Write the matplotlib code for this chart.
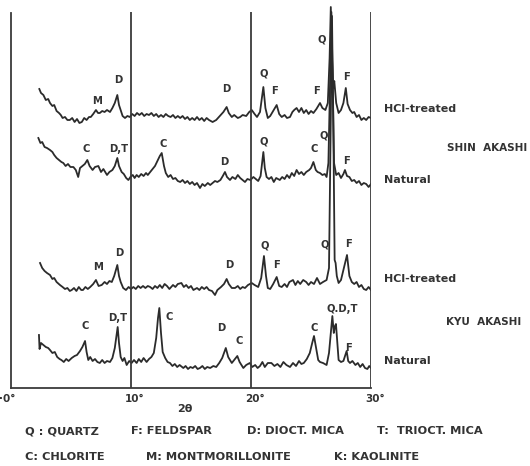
import matplotlib
matplotlib.use("Agg")
import matplotlib.pyplot as plt
from matplotlib.transforms import ScaledTranslation

W, H = 530, 466

# ---- data: (2-theta in degrees, relative intensity in arbitrary units)
shin_hcl = [
    (2.36, 299), (2.5, 295), (2.7, 293), (2.9, 288), (3.1, 289), (3.25, 285), (3.45, 282), (3.6, 283),
    (3.8, 277), (4.0, 275), (4.15, 273), (4.3, 270), (4.5, 271), (4.7, 268), (4.9, 268), (5.1, 270),
    (5.3, 266), (5.5, 269), (5.7, 265), (5.9, 266), (6.1, 270), (6.3, 268), (6.5, 271), (6.65, 271),
    (6.85, 274), (7.08, 278), (7.25, 275), (7.4, 275), (7.6, 277), (7.8, 276), (8.0, 278), (8.25, 276),
    (8.45, 280), (8.65, 285), (8.86, 293), (9.0, 283), (9.14, 278), (9.3, 272), (9.5, 270), (9.7, 272),
    (9.9, 271), (10.1, 274), (10.3, 272), (10.5, 275), (10.7, 273), (10.9, 275), (11.1, 272), (11.3, 274),
    (11.5, 273), (11.7, 275), (11.9, 272), (12.1, 274), (12.3, 271), (12.5, 273), (12.7, 271), (12.9, 274),
    (13.1, 272), (13.3, 271), (13.5, 273), (13.7, 270), (13.9, 272), (14.1, 270), (14.3, 272), (14.5, 269),
    (14.7, 271), (14.9, 268), (15.1, 270), (15.3, 268), (15.5, 271), (15.7, 268), (15.9, 270), (16.1, 267),
    (16.3, 270), (16.5, 268), (16.8, 266), (17.1, 268), (17.4, 272), (17.7, 276), (17.97, 281), (18.15, 275),
    (18.4, 271), (18.6, 273), (18.9, 270), (19.1, 271), (19.3, 273), (19.6, 272), (19.85, 276), (20.06, 278),
    (20.3, 274), (20.5, 271), (20.75, 276), (21.03, 301), (21.2, 280), (21.4, 270), (21.6, 272), (21.8, 276),
    (22.14, 283), (22.35, 274), (22.56, 271), (22.8, 273), (23.0, 270), (23.25, 271), (23.45, 276), (23.6, 278),
    (23.8, 280), (24.0, 276), (24.2, 280), (24.4, 275), (24.6, 278), (24.8, 274), (25.0, 277), (25.2, 275),
    (25.45, 279), (25.75, 285), (25.95, 280), (26.2, 278), (26.4, 285), (26.55, 330), (26.65, 381), (26.75, 330),
    (26.85, 300), (26.94, 307), (27.1, 285), (27.3, 275), (27.5, 278), (27.7, 285), (27.9, 300), (28.05, 284),
    (28.25, 278), (28.45, 275), (28.6, 276), (28.8, 271), (29.0, 273), (29.2, 268), (29.4, 270), (29.6, 268),
    (29.8, 271), (30.0, 270),
]

shin_nat = [
    (2.28, 250), (2.45, 245), (2.6, 246), (2.8, 241), (3.0, 240), (3.25, 238), (3.45, 236), (3.6, 233),
    (3.8, 230), (4.0, 228), (4.2, 226), (4.36, 225), (4.55, 222), (4.75, 224), (4.95, 221), (5.2, 221),
    (5.4, 218), (5.6, 211), (5.75, 220), (5.95, 222), (6.15, 224), (6.36, 228), (6.55, 222), (6.8, 218),
    (7.0, 221), (7.28, 222), (7.5, 216), (7.7, 219), (8.0, 213), (8.2, 216), (8.45, 218), (8.65, 222),
    (8.86, 230), (9.0, 222), (9.22, 216), (9.4, 214), (9.6, 210), (9.78, 208), (9.95, 211), (10.15, 213),
    (10.3, 210), (10.47, 213), (10.65, 211), (10.85, 214), (11.05, 212), (11.25, 215), (11.4, 213), (11.6, 216),
    (11.8, 219), (12.0, 222), (12.2, 227), (12.4, 232), (12.56, 235), (12.75, 222), (12.9, 215), (13.1, 211),
    (13.3, 213), (13.5, 209), (13.7, 210), (13.9, 207), (14.1, 206), (14.3, 208), (14.5, 205), (14.7, 207),
    (14.9, 204), (15.1, 206), (15.3, 203), (15.5, 205), (15.75, 200), (15.95, 204), (16.15, 202), (16.4, 205),
    (16.6, 203), (16.8, 205), (17.0, 207), (17.2, 206), (17.45, 208), (17.65, 212), (17.83, 216), (18.0, 211),
    (18.25, 208), (18.45, 211), (18.7, 209), (18.9, 213), (19.1, 210), (19.3, 208), (19.5, 206), (19.7, 209),
    (19.95, 208), (20.2, 211), (20.4, 209), (20.6, 207), (20.8, 212), (21.03, 236), (21.15, 220), (21.3, 211),
    (21.5, 209), (21.7, 211), (21.9, 206), (22.1, 210), (22.4, 208), (22.6, 211), (22.8, 209), (23.0, 213),
    (23.2, 210), (23.4, 215), (23.6, 212), (23.8, 218), (24.0, 214), (24.2, 216), (24.4, 213), (24.6, 216),
    (24.85, 218), (25.0, 220), (25.2, 226), (25.4, 218), (25.55, 216), (25.75, 215), (25.95, 213), (26.15, 214),
    (26.3, 211), (26.45, 225), (26.58, 300), (26.7, 376), (26.82, 300), (26.92, 225), (27.1, 213), (27.3, 215),
    (27.5, 210), (27.7, 214), (27.83, 218), (28.0, 212), (28.2, 211), (28.4, 207), (28.6, 208), (28.8, 205),
    (29.0, 207), (29.2, 203), (29.4, 205), (29.6, 204), (29.8, 201), (30.0, 204),
]

kyu_hcl = [
    (2.42, 125), (2.6, 120), (2.8, 117), (3.0, 115), (3.25, 113), (3.45, 109), (3.6, 110), (3.8, 106),
    (4.08, 103), (4.3, 101), (4.5, 99), (4.7, 100), (4.9, 97), (5.06, 98), (5.25, 100), (5.45, 97),
    (5.65, 101), (5.85, 98), (6.0, 98), (6.2, 101), (6.4, 99), (6.6, 101), (6.85, 104), (7.08, 108),
    (7.3, 102), (7.56, 103), (7.8, 106), (8.0, 104), (8.2, 107), (8.4, 106), (8.6, 112), (8.86, 123),
    (9.0, 112), (9.14, 106), (9.35, 100), (9.58, 98), (9.8, 101), (10.0, 99), (10.2, 101), (10.4, 99),
    (10.6, 102), (10.8, 100), (11.0, 102), (11.2, 100), (11.4, 102), (11.6, 101), (11.8, 99), (12.0, 102),
    (12.2, 100), (12.4, 103), (12.6, 100), (12.8, 104), (13.0, 102), (13.2, 99), (13.5, 103), (13.7, 101),
    (13.9, 104), (14.2, 105), (14.4, 101), (14.6, 103), (14.8, 100), (15.0, 102), (15.2, 98), (15.5, 100),
    (15.7, 98), (15.9, 101), (16.1, 99), (16.3, 101), (16.5, 98), (16.75, 97), (17.0, 93), (17.2, 98),
    (17.5, 101), (17.75, 104), (17.97, 109), (18.15, 104), (18.4, 100), (18.67, 100), (18.9, 102), (19.1, 99),
    (19.3, 101), (19.5, 100), (19.75, 103), (20.06, 105), (20.3, 103), (20.6, 101), (20.85, 110), (21.08, 132),
    (21.25, 112), (21.4, 100), (21.6, 99), (21.85, 104), (22.14, 111), (22.35, 102), (22.56, 101), (22.8, 104),
    (23.0, 101), (23.2, 106), (23.5, 108), (23.7, 103), (23.9, 107), (24.1, 104), (24.35, 108), (24.6, 106),
    (24.8, 103), (25.0, 106), (25.25, 104), (25.5, 110), (25.75, 104), (26.0, 106), (26.3, 108), (26.5, 120),
    (26.63, 250), (26.75, 372), (26.87, 250), (26.97, 128), (27.05, 125), (27.15, 112), (27.3, 105), (27.5, 108),
    (27.7, 118), (28.0, 133), (28.2, 112), (28.4, 106), (28.6, 104), (28.8, 106), (29.0, 101), (29.2, 103),
    (29.4, 99), (29.6, 98), (29.8, 101), (30.0, 98),
]

kyu_nat = [
    (2.33, 53), (2.38, 39), (2.5, 45), (2.7, 43), (2.9, 41), (3.1, 40), (3.25, 38), (3.45, 35),
    (3.65, 36), (3.85, 31), (4.05, 29), (4.2, 28), (4.4, 26), (4.6, 29), (4.8, 27), (5.06, 30),
    (5.3, 32), (5.5, 33), (5.75, 37), (5.95, 41), (6.17, 47), (6.3, 36), (6.44, 28), (6.6, 31),
    (6.8, 27), (7.0, 29), (7.2, 26), (7.4, 25), (7.6, 28), (7.8, 25), (8.0, 27), (8.25, 26),
    (8.45, 30), (8.65, 40), (8.89, 61), (9.0, 45), (9.14, 31), (9.3, 27), (9.45, 30), (9.64, 23),
    (9.85, 27), (10.05, 25), (10.25, 28), (10.47, 25), (10.65, 29), (10.85, 26), (11.05, 30), (11.3, 26),
    (11.5, 29), (11.7, 31), (11.9, 35), (12.1, 50), (12.25, 70), (12.36, 80), (12.5, 55), (12.64, 36),
    (12.85, 30), (13.05, 26), (13.25, 25), (13.45, 22), (13.65, 24), (13.85, 21), (14.05, 23), (14.36, 20),
    (14.55, 22), (14.75, 19), (14.95, 21), (15.15, 20), (15.35, 22), (15.55, 19), (15.75, 20), (15.95, 22),
    (16.15, 19), (16.35, 21), (16.6, 20), (16.86, 22), (17.1, 21), (17.35, 25), (17.6, 30), (17.9, 40),
    (18.1, 31), (18.4, 25), (18.6, 28), (18.86, 32), (19.05, 26), (19.36, 20), (19.6, 23), (19.9, 25),
    (20.1, 21), (20.35, 23), (20.55, 20), (20.75, 22), (20.95, 26), (21.15, 21), (21.4, 25), (21.7, 25),
    (21.95, 22), (22.2, 24), (22.45, 21), (22.7, 26), (22.95, 23), (23.25, 21), (23.5, 25), (23.75, 22),
    (24.0, 27), (24.2, 24), (24.4, 25), (24.65, 29), (24.9, 35), (25.1, 45), (25.25, 52), (25.45, 38),
    (25.6, 28), (25.75, 26), (26.0, 25), (26.3, 23), (26.5, 35), (26.65, 55), (26.78, 72), (26.9, 55),
    (27.0, 62), (27.08, 64), (27.2, 45), (27.3, 28), (27.5, 26), (27.7, 27), (27.97, 37), (28.1, 27),
    (28.25, 25), (28.45, 27), (28.7, 23), (28.9, 25), (29.1, 21), (29.3, 24), (29.5, 20), (29.7, 19),
    (29.85, 22), (30.0, 20),
]

traces = [shin_hcl, shin_nat, kyu_hcl, kyu_nat]

tick_vals = [0, 10, 20, 30]
tick_labels = ["·0°", "10°", "20°", "30°"]

legend_row1 = ["Q : QUARTZ", "F: FELDSPAR", "D: DIOCT. MICA", "T:  TRIOCT. MICA"]
legend_row2 = ["C: CHLORITE", "M: MONTMORILLONITE", "K: KAOLINITE"]

INK = "#2b2b2b"
TXT = "#333333"

fig = plt.figure(figsize=(W / 100, H / 100), dpi=100, facecolor="white")
x0, x30 = 11, 371
ybot, ytop = 388, 5
ax = fig.add_axes([x0 / W, 1 - ybot / H, (x30 - x0) / W, (ybot - ytop) / H])
ax.set_xlim(0, 30)
ax.set_ylim(0, ybot - ytop)
ax.set_facecolor("white")

for tr in traces:
    xs = [p[0] for p in tr]
    ys = [p[1] for p in tr]
    ax.plot(xs, ys, color=INK, lw=1.3)

ax.vlines([10, 20, 30], 0, ybot - 12, color="#3a3a3a", lw=1.3)
for s in ["top", "right"]:
    ax.spines[s].set_visible(False)
ax.spines["left"].set_bounds(0, ybot - 13)
for s in ["left", "bottom"]:
    ax.spines[s].set_color("#3a3a3a")
    ax.spines[s].set_linewidth(1.3)
ax.set_yticks([])
ax.set_xticks(tick_vals)
ax.set_xticklabels(tick_labels, fontsize=7.5, color=TXT, fontweight="bold")
ax.tick_params(axis="x", length=0, pad=4)
for i, lab in enumerate(ax.get_xticklabels()):
    dx = -4 if i == 0 else 4
    lab.set_transform(lab.get_transform() + ScaledTranslation(dx / 100, 0, fig.dpi_scale_trans))


def ftxt(x, y, s, size=8, ha="center", weight="bold", **kw):
    fig.text(x / W, 1 - y / H, s, ha=ha, va="center", fontsize=size, color=TXT,
             fontweight=weight, **kw)


PK = 7.2
# peak labels: Shin Akashi HCl-treated
for x, y, s in [(97, 101, "M"), (118, 80, "D"), (226, 89, "D"), (264, 74, "Q"),
                (275, 91, "F"), (316, 91, "F"), (322, 39, "Q"), (347, 77, "F")]:
    ftxt(x, y, s, size=PK)
# Shin Akashi natural
for x, y, s in [(86, 149, "C"), (119, 149, "D,T"), (163, 144, "C"), (224, 162, "D"),
                (264, 141, "Q"), (314, 149, "C"), (324, 135, "Q"), (346, 161, "F")]:
    ftxt(x, y, s, size=PK)
# Kyu Akashi HCl-treated
for x, y, s in [(98, 267, "M"), (119, 253, "D"), (229, 265, "D"), (265, 246, "Q"),
                (277, 265, "F"), (325, 244, "Q"), (348, 244, "F")]:
    ftxt(x, y, s, size=PK)
# Kyu Akashi natural
for x, y, s in [(85, 326, "C"), (118, 318, "D,T"), (169, 317, "C"), (221, 328, "D"),
                (239, 341, "C"), (314, 328, "C"), (342, 309, "Q.D,T"), (349, 348, "F")]:
    ftxt(x, y, s, size=PK)

# trace names
ftxt(384, 109, "HCl-treated", ha="left")
ftxt(384, 180, "Natural", ha="left")
ftxt(384, 279, "HCl-treated", ha="left")
ftxt(384, 361, "Natural", ha="left")
ftxt(447, 148, "SHIN  AKASHI", size=7.5, ha="left")
ftxt(446, 322, "KYU  AKASHI", size=7.5, ha="left")

ftxt(185, 409, "2θ", size=8)

for x, s in zip([25, 131, 247, 377], legend_row1):
    ftxt(x, 431, s, size=8.2, ha="left")
for x, s in zip([25, 146, 334], legend_row2):
    ftxt(x, 457, s, size=8.2, ha="left")

fig.savefig("out.png", dpi=100, facecolor="white")
